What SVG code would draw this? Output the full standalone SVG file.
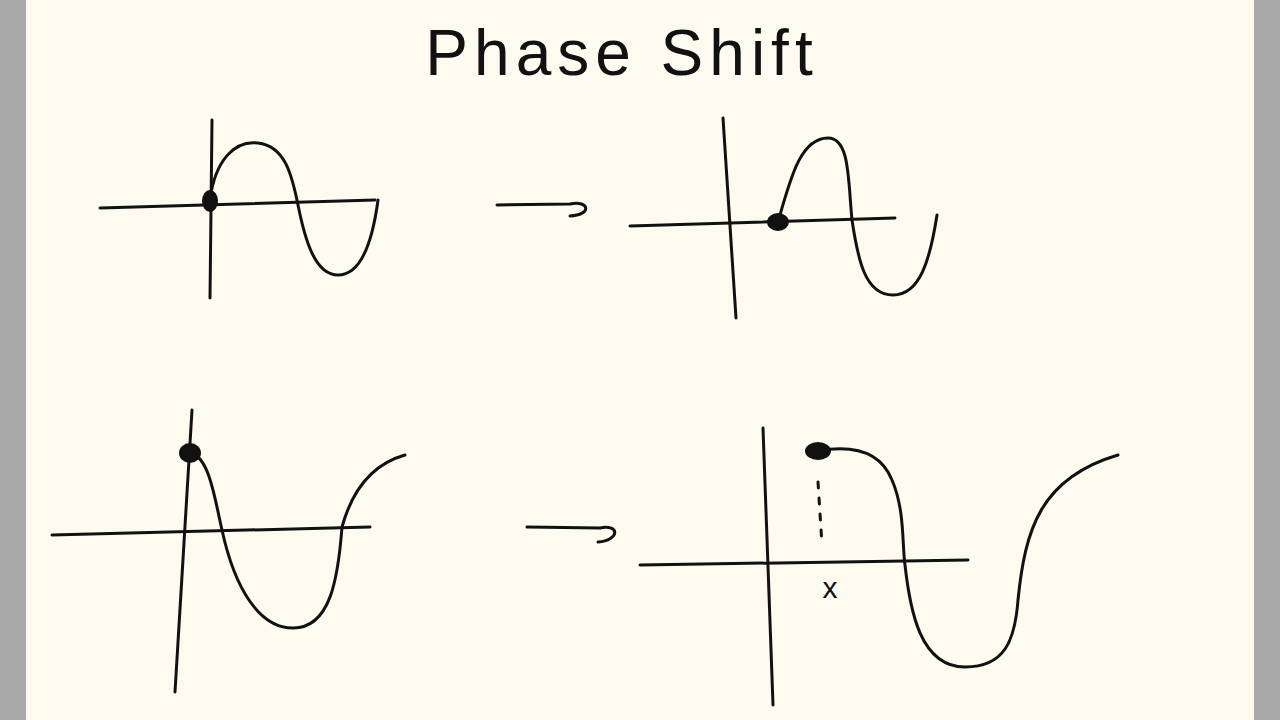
<svg xmlns="http://www.w3.org/2000/svg" width="1280" height="720" viewBox="0 0 1280 720">
<style>
.s{fill:none;stroke:#111;stroke-width:3;stroke-linecap:round;stroke-linejoin:round}
.d{fill:#111}
</style>
<rect width="1280" height="720" fill="#a8a8a8"/>
<rect x="26" y="0" width="1228" height="720" fill="#fdfbef"/>
<text x="622" y="75" font-family="Liberation Sans, sans-serif" font-size="64" font-weight="normal" text-anchor="middle" fill="#111" letter-spacing="6">Phase  Shift</text>
<g id="g1">
<path class="s" d="M100 208 L375 200"/>
<path class="s" d="M212 120 L210 298"/>
<path class="s" d="M210 200 C215 160 235 140 258 143 C285 146 292 175 298 205 C305 240 315 275 338 275 C360 275 372 245 378 200"/>
<ellipse class="d" cx="210" cy="201" rx="8" ry="11"/>
</g>
<g id="a1"><path class="s" d="M497 205 L570 204 C590 200 592 215 570 216"/></g>
<g id="g2">
<path class="s" d="M630 226 L895 218"/>
<path class="s" d="M723 118 L736 318"/>
<path class="s" d="M778 222 C790 180 800 138 828 138 C850 138 848 180 852 220 C858 260 865 295 893 295 C920 295 930 260 937 215"/>
<ellipse class="d" cx="778" cy="222" rx="11" ry="9"/>
</g>
<g id="g3">
<path class="s" d="M52 535 L370 527"/>
<path class="s" d="M192 410 L175 692"/>
<path class="s" d="M192 453 C210 460 215 500 222 530 C235 590 260 628 293 628 C330 628 338 580 342 527 C355 480 380 462 405 455"/>
<ellipse class="d" cx="190" cy="453" rx="11" ry="10"/>
</g>
<g id="a2"><path class="s" d="M527 527 L600 528 C620 524 620 540 598 542"/></g>
<g id="g4">
<path class="s" d="M640 565 L968 560"/>
<path class="s" d="M763 428 L773 705"/>
<path class="s" d="M817 451 C850 445 880 450 892 480 C905 510 902 545 905 565 C910 610 920 667 965 667 C1005 667 1015 640 1018 600 C1025 530 1040 478 1118 455"/>
<ellipse class="d" cx="818" cy="451" rx="13" ry="9"/>
<path class="s" d="M818 482 L822 545" stroke-dasharray="6 10" stroke-width="2"/>
<text x="830" y="598" font-family="Liberation Sans, sans-serif" font-size="30" fill="#111" text-anchor="middle">x</text>
</g>
</svg>
